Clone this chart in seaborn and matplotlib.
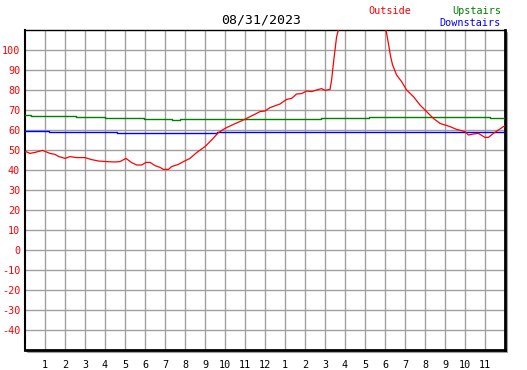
import numpy as np
import pandas as pd
import matplotlib
matplotlib.use("Agg")
import matplotlib.pyplot as plt
from matplotlib.lines import Line2D
import seaborn as sns

# ---- data (hours since midnight, temperature) ----
outside_hours = [0.0, 0.05, 0.25, 0.5, 0.88, 1.25, 1.5, 1.67, 2.0, 2.25, 2.58, 3.0, 3.33, 3.67,
                 4.08, 4.5, 4.75, 5.05, 5.33, 5.58, 5.83, 6.05, 6.25, 6.5, 6.75, 6.92, 7.17,
                 7.33, 7.67, 7.92, 8.25, 8.58, 9.0, 9.33, 9.67, 10.0, 10.42, 10.92, 11.42,
                 11.75, 12.0, 12.25, 12.75, 13.08, 13.33, 13.58, 13.83, 14.08, 14.33, 14.58,
                 14.83, 15.0, 15.25, 15.33, 15.42, 15.5, 15.58, 15.67, 16.3, 17.4, 18.05,
                 18.17, 18.28, 18.38, 18.58, 18.83, 19.08, 19.42, 19.75, 20.08, 20.42, 20.75,
                 21.25, 21.58, 22.0, 22.17, 22.42, 22.67, 23.0, 23.17, 23.42, 23.67, 23.92, 24.0]
outside_temp = [49.0, 49.2, 48.3, 48.8, 49.8, 48.3, 47.8, 46.8, 45.8, 46.7, 46.2, 46.2, 45.2, 44.5,
                44.2, 44.0, 44.2, 45.8, 43.7, 42.5, 42.5, 43.8, 43.8, 42.2, 41.3, 40.3, 40.3,
                41.7, 42.8, 44.2, 45.8, 48.7, 51.7, 55.0, 58.7, 60.8, 62.8, 65.0, 67.5,
                69.2, 69.5, 71.2, 73.0, 75.3, 75.8, 78.0, 78.2, 79.5, 79.2, 80.0,
                80.7, 79.8, 80.3, 85.0, 93.3, 100.0, 106.7, 110.0, 125.0, 125.0, 110.0,
                103.3, 96.7, 92.5, 87.5, 84.2, 80.0, 76.7, 72.5, 69.2, 65.8, 63.3,
                61.7, 60.3, 59.2, 57.5, 58.0, 58.3, 56.3, 56.3, 58.3, 60.0, 61.7, 62.0]

upstairs_hours = [0.0, 0.3, 2.55, 4.0, 4.05, 5.95, 7.35, 7.75, 14.8, 17.2, 23.25, 24.0]
upstairs_temp = [67.3, 66.8, 66.3, 65.8, 65.8, 65.3, 64.8, 65.3, 65.8, 66.3, 65.8, 65.8]

downstairs_hours = [0.0, 1.2, 4.58, 9.58, 24.0]
downstairs_temp = [59.5, 58.8, 58.3, 58.8, 58.8]

x_ticks = list(range(1, 24))
x_tick_labels = [str(h) for h in range(1, 12)] + ["12"] + [str(h) for h in range(1, 12)]
y_ticks = list(range(-40, 101, 10))

title = "08/31/2023"

# ---- style ----
sns.set_style("white")
plt.rcParams["font.family"] = ["DejaVu Sans Mono"]
plt.rcParams["axes.unicode_minus"] = False

W, H = 527, 370
fig = plt.figure(figsize=(W / 100, H / 100), dpi=100)
L, R, T, B = 25, 505, 30, 350
ax = fig.add_axes([L / W, (H - B) / H, (R - L) / W, (B - T) / H])
ax.set_facecolor("white")

# shadow lines right and bottom
fig.add_artist(Line2D([(L + 3) / W, (R + 2) / W], [(H - B - 2) / H] * 2, color="#a0a0a0", lw=1.5,
                      transform=fig.transFigure, zorder=0))
fig.add_artist(Line2D([(R + 2) / W] * 2, [(H - B - 2) / H, (H - T - 3) / H], color="#a0a0a0", lw=1.5,
                      transform=fig.transFigure, zorder=0))

df_out = pd.DataFrame({"hour": outside_hours, "temp": outside_temp})
df_up = pd.DataFrame({"hour": upstairs_hours, "temp": upstairs_temp})
df_down = pd.DataFrame({"hour": downstairs_hours, "temp": downstairs_temp})

sns.lineplot(data=df_up, x="hour", y="temp", ax=ax, color="#008000", lw=1.0,
             drawstyle="steps-post", estimator=None, sort=False, zorder=3)
sns.lineplot(data=df_down, x="hour", y="temp", ax=ax, color="#0000ff", lw=1.0,
             drawstyle="steps-post", estimator=None, sort=False, zorder=3)
sns.lineplot(data=df_out, x="hour", y="temp", ax=ax, color="#ff0000", lw=0.9,
             estimator=None, sort=False, zorder=4)

ax.set_xlim(0, 24)
ax.set_ylim(-50, 110)
ax.set_xlabel("")
ax.set_ylabel("")

ax.set_xticks(x_ticks)
ax.set_xticklabels(x_tick_labels)
ax.set_yticks(y_ticks)
ax.set_yticklabels([str(v) for v in y_ticks])

ax.grid(True, color="#a0a0a0", lw=1.0)
ax.set_axisbelow(True)

ax.tick_params(axis="both", direction="in", length=4, width=1.2, color="black", labelsize=7.3)
ax.tick_params(axis="y", labelcolor="#ff0000", pad=3.5)
ax.tick_params(axis="x", labelcolor="black", pad=7)

for side in ["left", "right", "top"]:
    ax.spines[side].set_visible(True)
    ax.spines[side].set_color("black")
    ax.spines[side].set_linewidth(1.0)
ax.spines["bottom"].set_visible(True)
ax.spines["bottom"].set_color("black")
ax.spines["bottom"].set_linewidth(2.0)
ax.spines["left"].set_linewidth(1.5)
ax.spines["right"].set_linewidth(2.0)

fig.text(261 / W, 1 - 20 / H, title, ha="center", va="center", fontsize=9.5, color="black")
fig.text(390 / W, 1 - 11 / H, "Outside", ha="center", va="center", fontsize=7.3, color="#ff0000")
fig.text(501 / W, 1 - 11 / H, "Upstairs", ha="right", va="center", fontsize=7.3, color="#008000")
fig.text(501 / W, 1 - 23 / H, "Downstairs", ha="right", va="center", fontsize=7.3, color="#0000ff")

fig.savefig("out.png", dpi=100)
